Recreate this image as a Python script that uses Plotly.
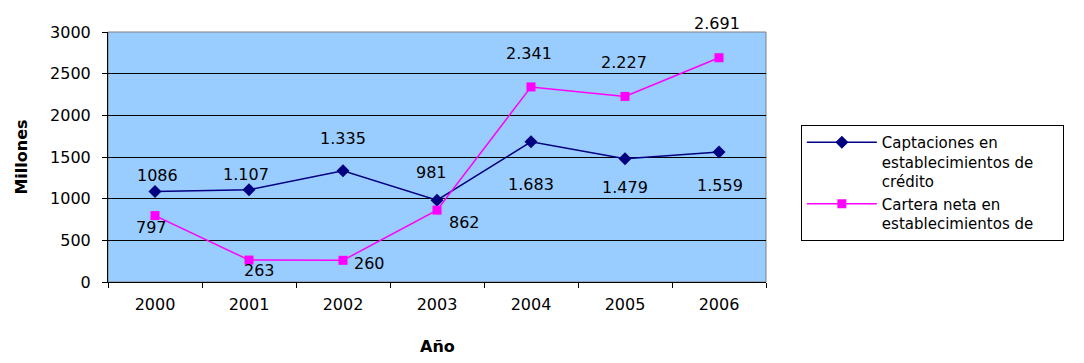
import plotly.graph_objects as go

years = ["2000", "2001", "2002", "2003", "2004", "2005", "2006"]
captaciones = [1086, 1107, 1335, 981, 1683, 1479, 1559]
cartera = [797, 263, 260, 862, 2341, 2227, 2691]
captaciones_txt = ["1086", "1.107", "1.335", "981", "1.683", "1.479", "1.559"]
cartera_txt = ["797", "263", "260", "862", "2.341", "2.227", "2.691"]
y_ticks = [0, 500, 1000, 1500, 2000, 2500, 3000]

# label offsets (px) as in the source picture
cap_shift = [(2, 16), (-3, 15), (0, 32), (-6, 28), (0, -43), (0, -29), (1, -33)]
car_shift = [(-4, -12), (10, -10), (26, -3), (27, -12), (-2, 33), (-1, 34), (-2, 34)]

FONT = "DejaVu Sans, Verdana, sans-serif"
NAVY, MAGENTA = "#000080", "#ff00ff"
PAD = "\u00a0" * 5  # widens the legend box like the original

fig = go.Figure()
fig.add_trace(go.Scatter(
    x=years, y=captaciones, mode="lines+markers",
    name="Captaciones en<br>establecimientos de" + PAD + "<br>crédito",
    line=dict(color=NAVY, width=1.5),
    marker=dict(symbol="diamond", size=10, color=NAVY)))
fig.add_trace(go.Scatter(
    x=years, y=cartera, mode="lines+markers",
    name="Cartera neta en<br>establecimientos de",
    line=dict(color=MAGENTA, width=1.5),
    marker=dict(symbol="square", size=9, color=MAGENTA)))

# data labels; category axis -> position by index
for vals, txts, shifts in ((captaciones, captaciones_txt, cap_shift),
                           (cartera, cartera_txt, car_shift)):
    for i, (v, t, (dx, dy)) in enumerate(zip(vals, txts, shifts)):
        fig.add_annotation(x=i, y=v, text=t, showarrow=False,
                           xshift=dx, yshift=dy,
                           font=dict(family=FONT, size=16, color="#000"))

# x axis title placed by hand (axis title standoff would shrink the plot)
fig.add_annotation(x=0.5, y=0, xref="paper", yref="paper", text="<b>Año</b>",
                   showarrow=False, yanchor="middle", yshift=-64,
                   font=dict(family=FONT, size=16, color="#000"))

# plot area frame (grey top/right like the original)
fig.add_shape(type="rect", xref="x domain", yref="y domain",
              x0=0, x1=1, y0=0, y1=1, line=dict(color="#808080", width=1),
              layer="below")

fig.update_layout(
    width=1068, height=352,
    margin=dict(l=100, r=308, t=24, b=78),
    paper_bgcolor="#ffffff", plot_bgcolor="#99ccff",
    font=dict(family=FONT, size=16, color="#000"),
    showlegend=True,
    legend=dict(x=1.053, y=0.628, xanchor="left", yanchor="top",
                bordercolor="#000", borderwidth=1, bgcolor="#fff",
                font=dict(family=FONT, size=15), tracegroupgap=0,
                itemwidth=70, valign="top"),
    xaxis=dict(type="category", range=[-0.5, 6.5], tickson="boundaries",
               ticks="outside", ticklen=5, tickcolor="#000",
               ticklabelstandoff=8, automargin=False,
               showline=True, linecolor="#000", linewidth=1,
               showgrid=False, zeroline=False),
    yaxis=dict(range=[0, 3000], tickvals=y_ticks,
               ticks="outside", ticklen=5, tickcolor="#000",
               ticklabelstandoff=8,
               showline=True, linecolor="#000", linewidth=1,
               showgrid=True, gridcolor="#000", gridwidth=1,
               zeroline=False,
               title=dict(text="<b>Millones</b>", standoff=18,
                          font=dict(family=FONT, size=16))),
)

fig.write_html("out.html")
